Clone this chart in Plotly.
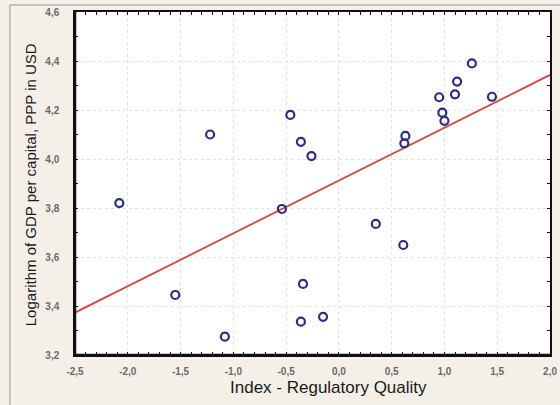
import plotly.graph_objects as go

# Regulatory Quality index vs log GDP per capita (PPP, USD)
regulatory_quality = [-2.08, -1.22, -1.55, -1.08, -0.46, -0.54, -0.36, -0.26, -0.34, -0.36,
                      -0.15, 0.35, 0.61, 0.63, 0.62, 0.95, 0.98, 1.00, 1.10, 1.12, 1.26, 1.45]
log_gdp = [3.82, 4.10, 3.445, 3.275, 4.18, 3.796, 4.07, 4.012, 3.49, 3.336,
           3.356, 3.735, 3.649, 4.094, 4.064, 4.252, 4.189, 4.156, 4.264, 4.316, 4.39, 4.254]

# fitted linear trend: y = intercept + slope * x
fit_intercept = 3.912
fit_slope = 0.2156
fit_x = [-2.5, 2.0]
fit_y = [fit_intercept + fit_slope * v for v in fit_x]

x_ticks = [-2.5, -2.0, -1.5, -1.0, -0.5, 0.0, 0.5, 1.0, 1.5, 2.0]
x_tick_text = ["-2,5", "-2,0", "-1,5", "-1,0", "-0,5", "0,0", "0,5", "1,0", "1,5", "2,0"]
y_ticks = [3.2, 3.4, 3.6, 3.8, 4.0, 4.2, 4.4, 4.6]
y_tick_text = ["3,2", "3,4", "3,6", "3,8", "4,0", "4,2", "4,4", "4,6"]

x_title = "Index - Regulatory Quality"
y_title = "Logarithm of GDP per capital, PPP in USD"

fig = go.Figure()
fig.add_trace(go.Scatter(
    x=fit_x, y=fit_y, mode="lines",
    line=dict(color="#d8453c", width=1.8),
    hoverinfo="skip", showlegend=False,
))
fig.add_trace(go.Scatter(
    x=regulatory_quality, y=log_gdp, mode="markers",
    marker=dict(symbol="circle-open", size=8, color="#2b2d86", line=dict(width=2.2, color="#2b2d86")),
    showlegend=False,
))

tick_font = dict(family="Liberation Sans, Arial, sans-serif", size=10, color="#6a6a6a", weight="bold")
title_font = dict(family="Liberation Sans, Arial, sans-serif", size=17, color="#1a1a1a")
ytitle_font = dict(family="Liberation Sans, Arial, sans-serif", size=15, color="#1a1a1a")

axis_common = dict(
    tickfont=tick_font, showline=True, linecolor="#111111", linewidth=1.5,
    mirror="allticks", ticks="inside", ticklen=3, tickcolor="#111111",
    showgrid=True, gridcolor="#e0e0e0", griddash="dot", gridwidth=1,
    zeroline=False, automargin=False,
    minor=dict(dtick=0.1, tick0=0, ticks="inside", ticklen=3, tickcolor="#111111", showgrid=False),
)

fig.update_layout(
    width=560, height=405,
    margin=dict(l=75, r=10, t=12, b=50),
    paper_bgcolor="#f4f0e7",
    plot_bgcolor="#ffffff",
    xaxis=dict(range=[-2.5, 2.0], tickvals=x_ticks, ticktext=x_tick_text,
               ticklabelstandoff=6, **axis_common),
    yaxis=dict(range=[3.2, 4.6], tickvals=y_ticks, ticktext=y_tick_text,
               ticklabelstandoff=12, **axis_common),
    annotations=[
        dict(text=x_title, xref="paper", yref="paper", x=0.533, y=-0.096,
             xanchor="center", yanchor="middle", showarrow=False, font=title_font),
        dict(text=y_title, xref="paper", yref="paper", x=-0.0947, y=0.495,
             xanchor="center", yanchor="middle", textangle=-90, showarrow=False, font=ytitle_font),
    ],
    shapes=[
        # heavier left and bottom axis lines
        dict(type="line", xref="paper", yref="paper", x0=0, x1=0, y0=0, y1=1,
             line=dict(color="#111111", width=2.5)),
        dict(type="line", xref="paper", yref="paper", x0=0, x1=1, y0=0, y1=0,
             line=dict(color="#111111", width=2.5)),
        # outer frame around the figure
        dict(type="line", xref="paper", yref="paper", x0=-0.137, x1=1.03, y0=1.0204, y1=1.0204,
             line=dict(color="#9a968e", width=1)),
        dict(type="line", xref="paper", yref="paper", x0=-0.137, x1=-0.137, y0=-0.15, y1=1.0204,
             line=dict(color="#9a968e", width=1)),
    ],
)

fig.write_html("out.html")
